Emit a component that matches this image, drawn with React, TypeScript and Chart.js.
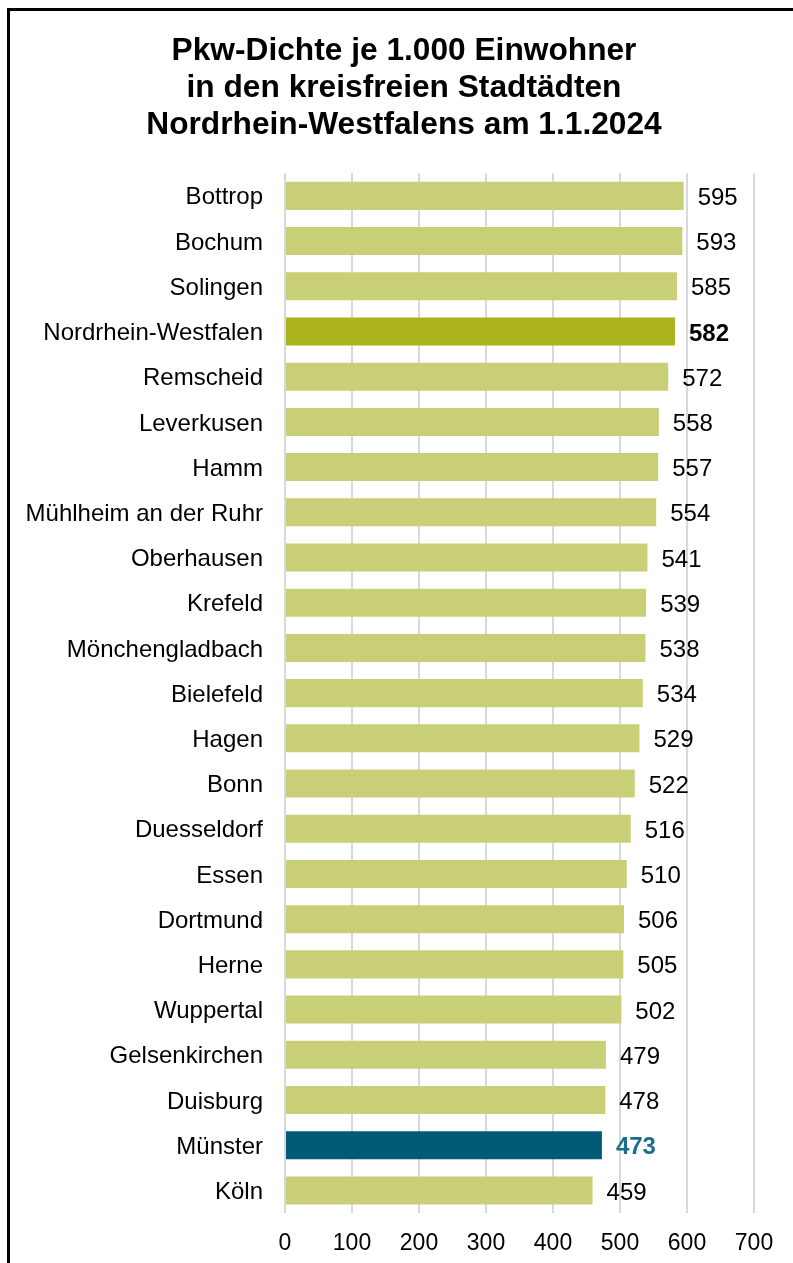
import { useEffect, useRef } from "react";
import { Chart, registerables } from "chart.js";

Chart.register(...registerables);

const titleLines = [
  "Pkw-Dichte je 1.000 Einwohner",
  "in den kreisfreien Stadtädten",
  "Nordrhein-Westfalens am 1.1.2024",
];

const categories = [
  "Bottrop",
  "Bochum",
  "Solingen",
  "Nordrhein-Westfalen",
  "Remscheid",
  "Leverkusen",
  "Hamm",
  "Mühlheim an der Ruhr",
  "Oberhausen",
  "Krefeld",
  "Mönchengladbach",
  "Bielefeld",
  "Hagen",
  "Bonn",
  "Duesseldorf",
  "Essen",
  "Dortmund",
  "Herne",
  "Wuppertal",
  "Gelsenkirchen",
  "Duisburg",
  "Münster",
  "Köln",
];

const values = [
  595, 593, 585, 582, 572, 558, 557, 554, 541, 539, 538, 534, 529, 522, 516,
  510, 506, 505, 502, 479, 478, 473, 459,
];

const axisMin = 0;
const axisMax = 700;
const axisStep = 100;

const highlightState = "Nordrhein-Westfalen";
const highlightCity = "Münster";

const COLOR_BAR = "#c9cf76";
const COLOR_STATE = "#aab319";
const COLOR_CITY = "#005a78";
const COLOR_CITY_LABEL = "#1b6f8c";
const FONT = "'Liberation Sans', Arial, sans-serif";

const barColors = categories.map((c) =>
  c === highlightState ? COLOR_STATE : c === highlightCity ? COLOR_CITY : COLOR_BAR
);

const valueLabelPlugin = {
  id: "valueLabels",
  afterDatasetsDraw(chart: any) {
    const ctx = chart.ctx;
    const meta = chart.getDatasetMeta(0);
    ctx.save();
    ctx.textAlign = "left";
    ctx.textBaseline = "middle";
    meta.data.forEach((bar: any, i: number) => {
      const cat = categories[i];
      const bold = cat === highlightState || cat === highlightCity;
      ctx.font = `${bold ? "bold " : ""}24px ${FONT}`;
      ctx.fillStyle = cat === highlightCity ? COLOR_CITY_LABEL : "#000000";
      ctx.fillText(String(values[i]), bar.x + 14, bar.y + 2.5);
    });
    ctx.restore();
  },
};

// Centre the title block over the region used in the reference
const titleShiftPlugin = {
  id: "titleShift",
  afterLayout(chart: any) {
    const t = chart.titleBlock;
    if (t) {
      t.left = 54;
      t.right = 754;
    }
  },
};

export default function App() {
  const ref = useRef<HTMLCanvasElement | null>(null);

  useEffect(() => {
    if (!ref.current) return;
    const chart = new Chart(ref.current, {
      type: "bar",
      data: {
        labels: categories,
        datasets: [
          {
            data: values,
            backgroundColor: barColors,
            borderWidth: 0,
            barPercentage: 0.62,
            categoryPercentage: 1,
          },
        ],
      },
      options: {
        indexAxis: "y",
        responsive: false,
        animation: false,
        devicePixelRatio: 1,
        layout: { padding: { left: 10, right: 39, top: 0, bottom: 0 } },
        plugins: {
          legend: { display: false },
          tooltip: { enabled: false },
          title: {
            display: true,
            text: titleLines,
            color: "#000000",
            font: { family: FONT, size: 31.7, weight: "bold", lineHeight: 1.17 },
            padding: { top: 33, bottom: 29 },
          },
        },
        scales: {
          x: {
            min: axisMin,
            max: axisMax,
            ticks: {
              stepSize: axisStep,
              color: "#000000",
              font: { family: FONT, size: 23 },
              padding: 17,
            },
            grid: { color: "#d9d9d9", lineWidth: 2, drawTicks: false },
            border: { display: false },
            afterFit: (s: any) => {
              s.height = 50;
            },
          },
          y: {
            ticks: {
              color: "#000000",
              font: { family: FONT, size: 24 },
              padding: 22,
              labelOffset: 2,
              autoSkip: false,
            },
            grid: { display: false, drawTicks: false },
            border: { display: false },
            afterFit: (s: any) => {
              s.width = 275;
            },
          },
        },
      } as any,
      plugins: [valueLabelPlugin, titleShiftPlugin],
    });
    return () => chart.destroy();
  }, []);

  return (
    <div
      style={{
        position: "absolute",
        left: 0,
        top: 0,
        width: 793,
        height: 1263,
        overflow: "hidden",
        background: "#ffffff",
      }}
    >
      <div
        style={{
          position: "absolute",
          left: 7,
          top: 8,
          width: 786,
          height: 1255,
          borderTop: "3px solid #000",
          borderLeft: "3px solid #000",
          boxSizing: "border-box",
        }}
      />
      <canvas
        ref={ref}
        width={793}
        height={1263}
        style={{ position: "absolute", left: 0, top: 0, display: "block" }}
      />
    </div>
  );
}
